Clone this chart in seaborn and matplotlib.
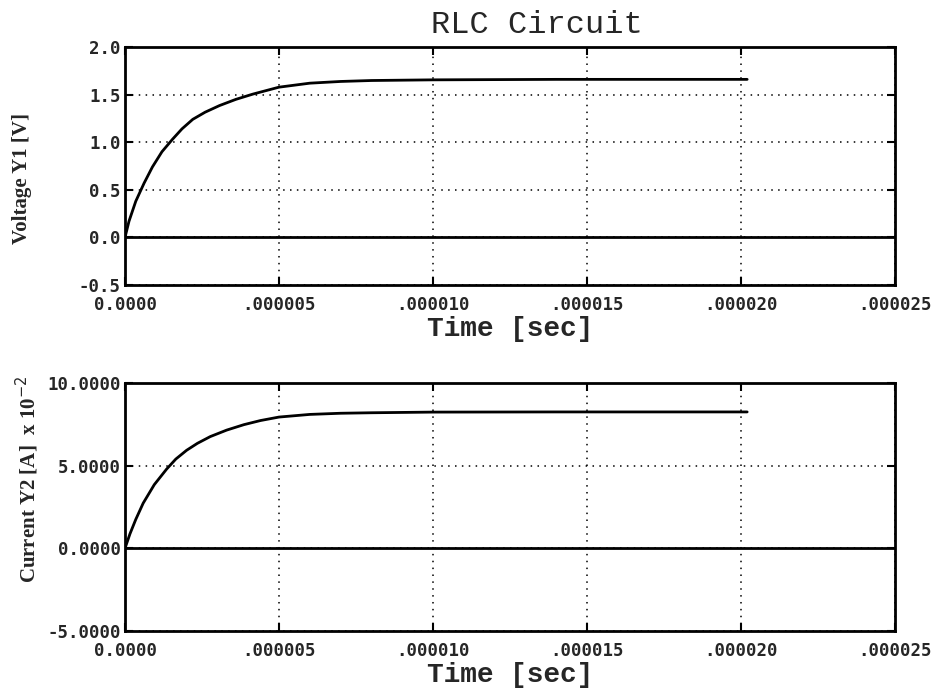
import numpy as np
import pandas as pd
import matplotlib
matplotlib.use("Agg")
import matplotlib.pyplot as plt
import seaborn as sns

# Data (time in microseconds)
v_time_us = [0.0, 0.13, 0.35, 0.62, 0.89, 1.2, 1.54, 1.85, 2.2, 2.6, 3.07, 3.6, 4.15, 5.0, 6.0, 7.0, 8.0, 10.0, 14.0, 20.2]
voltage = [0.0, 0.17, 0.38, 0.57, 0.74, 0.90, 1.03, 1.14, 1.24, 1.315, 1.385, 1.45, 1.505, 1.578, 1.62, 1.638, 1.648, 1.655, 1.66, 1.66]
i_time_us = [0.0, 0.16, 0.35, 0.59, 0.95, 1.35, 1.65, 2.0, 2.35, 2.77, 3.3, 3.86, 4.4, 5.0, 6.0, 7.0, 8.0, 10.0, 14.0, 20.2]
current_e2 = [0.0, 0.87, 1.75, 2.73, 3.85, 4.79, 5.4, 5.93, 6.35, 6.76, 7.15, 7.48, 7.73, 7.94, 8.1, 8.17, 8.2, 8.24, 8.25, 8.25]

x_ticks = [0.0, 0.000005, 0.000010, 0.000015, 0.000020, 0.000025]
x_ticklabels = ["0.0000", ".000005", ".000010", ".000015", ".000020", ".000025"]
y1_ticks = [-0.5, 0.0, 0.5, 1.0, 1.5, 2.0]
y1_ticklabels = ["-0.5", "0.0", "0.5", "1.0", "1.5", "2.0"]
y2_ticks = [-5.0, 0.0, 5.0, 10.0]
y2_ticklabels = ["-5.0000", "0.0000", "5.0000", "10.0000"]

df_v = pd.DataFrame({"t": np.array(v_time_us) * 1e-6, "v": voltage})
df_i = pd.DataFrame({"t": np.array(i_time_us) * 1e-6, "i": current_e2})

sns.set_style("white")
plt.rcParams["font.family"] = ["DejaVu Sans"]

W, H = 938, 688
fig = plt.figure(figsize=(9.38, 6.88), dpi=100)
# axes rectangles from pixel extents
ax1 = fig.add_axes([125 / W, 1 - 285 / H, 770 / W, (285 - 47) / H])
ax2 = fig.add_axes([125 / W, 1 - 631 / H, 770 / W, (631 - 383) / H])

mono = "DejaVu Sans Mono"
slab = "Liberation Mono"
serif = "Liberation Serif"

def style(ax, yticks, ylabels, ylim):
    ax.set_xlim(0, 0.000025)
    ax.set_ylim(*ylim)
    ax.set_xticks(x_ticks)
    ax.set_xticklabels(x_ticklabels, fontfamily=mono, fontweight="bold", fontsize=12.5)
    ax.set_yticks(yticks)
    ax.set_yticklabels(ylabels, fontfamily=mono, fontweight="bold", fontsize=12.5)
    ax.tick_params(axis="both", direction="in", length=6, width=1.5, color="black",
                   bottom=True, left=True, top=True, right=True)
    ax.tick_params(axis="x", pad=8)
    ax.tick_params(axis="y", pad=3)
    ax.grid(True, linestyle=(0, (1, 3.5)), color="black", linewidth=1.1)
    for s in ax.spines.values():
        s.set_color("black")
        s.set_linewidth(2)
    ax.axhline(0, color="black", linewidth=2)
    ax.set_xlabel("Time [sec]", fontfamily=slab, fontweight="bold", fontsize=20, labelpad=1)
    ax.set_ylabel("")

sns.lineplot(data=df_v, x="t", y="v", ax=ax1, color="black", linewidth=2)
style(ax1, y1_ticks, y1_ticklabels, (-0.5, 2.0))

sns.lineplot(data=df_i, x="t", y="i", ax=ax2, color="black", linewidth=2)
style(ax2, y2_ticks, y2_ticklabels, (-5.0, 10.0))

fig.text(22 / W, 1 - 178 / H, "Voltage Y1 [V]", rotation=90, ha="center", va="center",
         fontfamily=serif, fontweight="bold", fontsize=15)
fig.text(27 / W, 1 - 479 / H, r"Current Y2 [A]  x 10$^{-2}$", rotation=90, ha="center", va="center",
         fontfamily=serif, fontweight="bold", fontsize=15)
fig.text(537 / W, 1 - 25 / H, "RLC Circuit", ha="center", va="center",
         fontfamily=slab, fontsize=23)

fig.savefig("out.png", dpi=100)
